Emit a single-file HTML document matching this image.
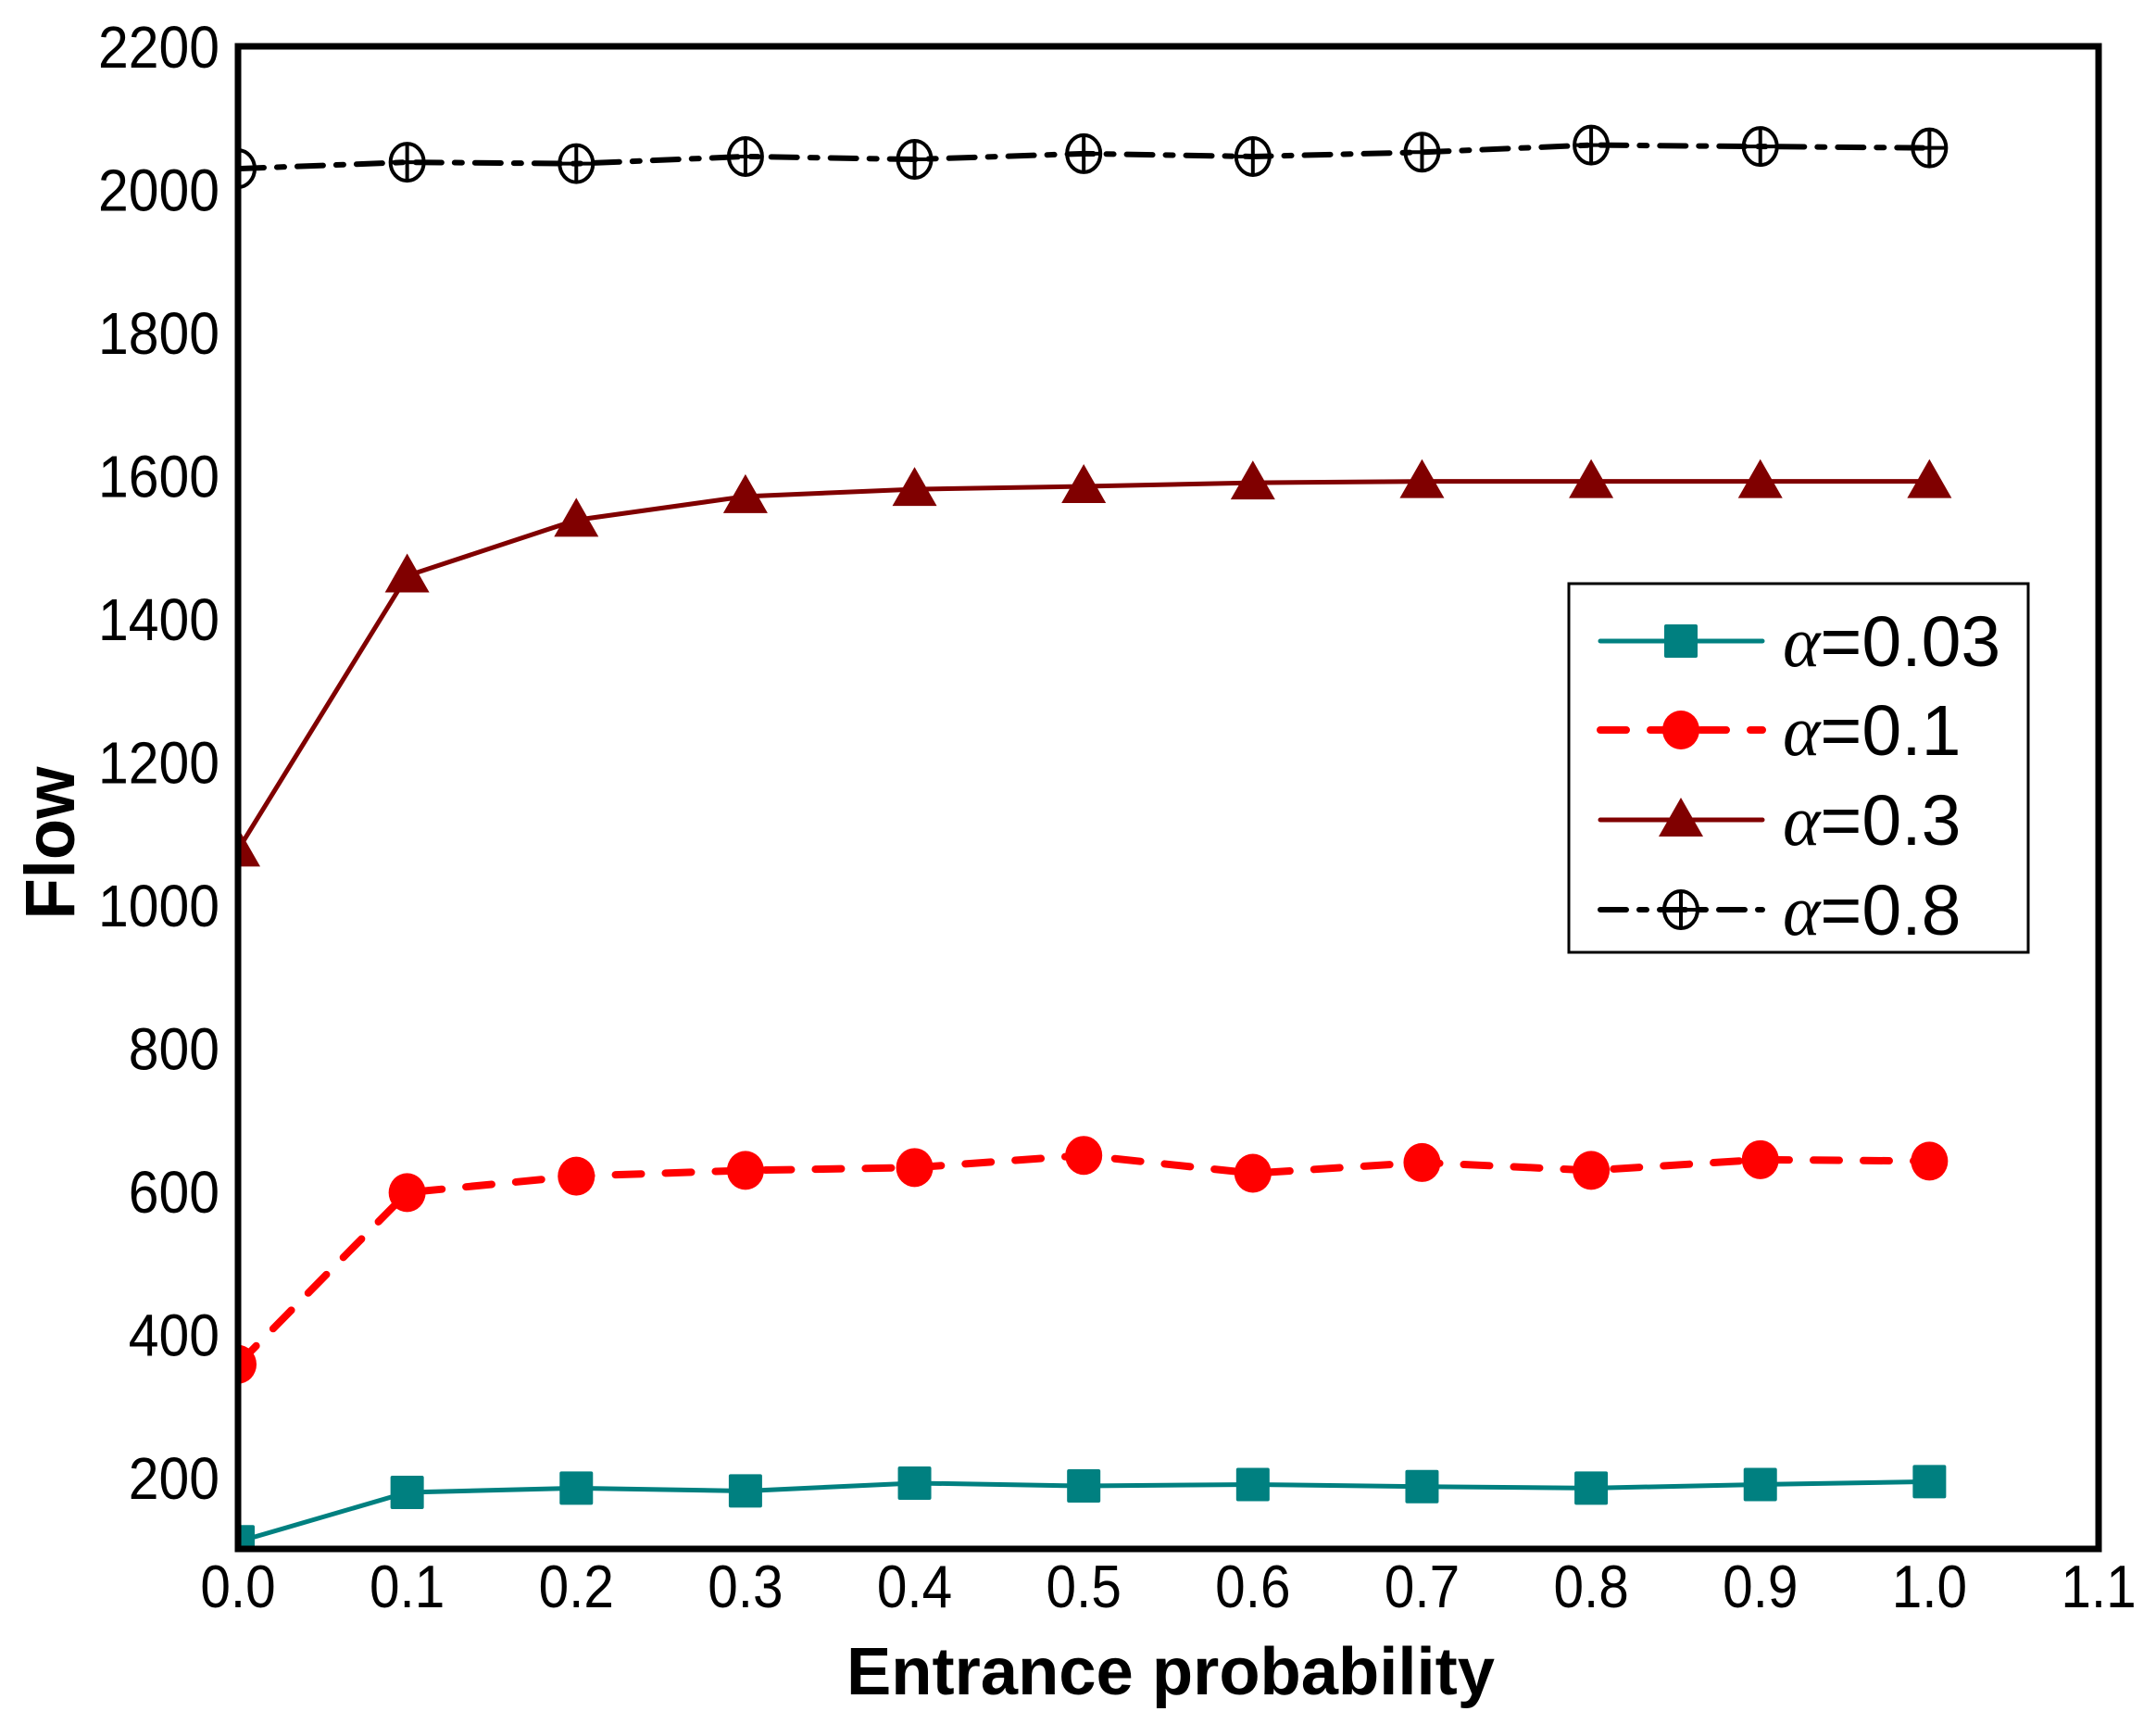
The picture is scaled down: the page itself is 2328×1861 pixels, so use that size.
<!DOCTYPE html>
<html><head><meta charset="utf-8"><style>
html,body{margin:0;padding:0;background:#fff;}
svg{display:block;}
text{font-family:"Liberation Sans",Arial,sans-serif;}
</style></head><body>
<svg id="chart" width="2328" height="1861" viewBox="0 0 2328 1861" xmlns="http://www.w3.org/2000/svg">
<defs><clipPath id="plotclip"><rect x="257" y="50" width="2009" height="1622"/></clipPath></defs>
<g id="series" clip-path="url(#plotclip)"></g>
<rect x="257" y="50" width="2009" height="1622" fill="none" stroke="#000" stroke-width="7"/>
<g id="xticks"></g>
<g id="yticks"></g>
<text x="1264" y="1829" text-anchor="middle" font-weight="bold" font-size="72" textLength="700" lengthAdjust="spacingAndGlyphs">Entrance probability</text>
<text transform="translate(80,910) rotate(-90)" text-anchor="middle" font-weight="bold" font-size="76" textLength="165" lengthAdjust="spacingAndGlyphs">Flow</text>
<g id="legend">
<rect x="1694" y="630" width="496" height="398" fill="#fff" stroke="#000" stroke-width="3"/>
</g>
</svg>
<script>
const xValues = [0.0,0.1,0.2,0.3,0.4,0.5,0.6,0.7,0.8,0.9,1.0];
const flowA003 = [110,179,185,181,192,188,190,187,185,190,194];
const flowA01 = [358,598,621,629,633,650,625,640,629,644,642];
const flowA03 = [1077,1460,1538,1571,1581,1585,1590,1592,1592,1592,1592];
const flowA08 = [2029,2038,2036,2046,2042,2050,2046,2052,2062,2060,2058];
const seriesLabels = ["0.03","0.1","0.3","0.8"];
const xTickLabels = ["0.0","0.1","0.2","0.3","0.4","0.5","0.6","0.7","0.8","0.9","1.0","1.1"];
const yTickLabels = ["200","400","600","800","1000","1200","1400","1600","1800","2000","2200"];

const NS="http://www.w3.org/2000/svg";
const X0=257, X1=2266, XMIN=0, XMAX=1.1;
const YTOP=50, YBOT=1672, YMIN=100, YMAX=2200;
function sx(v){return X0+(v-XMIN)/(XMAX-XMIN)*(X1-X0);}
function sy(v){return YBOT-(v-YMIN)/(YMAX-YMIN)*(YBOT-YTOP);}
function mk(tag,attrs,parent){const e=document.createElementNS(NS,tag);for(const k in attrs)e.setAttribute(k,attrs[k]);parent.appendChild(e);return e;}

const styles=[
 {data:flowA003,color:"#008080",dash:"",w:5,marker:"square"},
 {data:flowA01,color:"#ff0000",dash:"28 26",w:8,marker:"circle"},
 {data:flowA03,color:"#800000",dash:"",w:5,marker:"triangle"},
 {data:flowA08,color:"#000000",dash:"28 14 8 14",w:6,marker:"cross"}
];
function drawMarker(kind,x,y,color,g){
  let m;
  if(kind==="square"){m=mk("rect",{x:x-18,y:y-18,width:36,height:36,rx:2,fill:color},g);}
  else if(kind==="circle"){m=mk("ellipse",{cx:x,cy:y,rx:20,ry:21,fill:color},g);}
  else if(kind==="triangle"){m=mk("polygon",{points:`${x},${y-24} ${x-24},${y+18} ${x+24},${y+18}`,fill:color},g);}
  else {m=mk("g",{},g);
    mk("ellipse",{cx:x,cy:y,rx:18,ry:20,fill:"none",stroke:color,"stroke-width":4},m);
    mk("line",{x1:x,y1:y-20,x2:x,y2:y+20,stroke:color,"stroke-width":4},m);
    mk("line",{x1:x-18,y1:y,x2:x+18,y2:y,stroke:color,"stroke-width":4},m);}
  return m;
}
const sg=document.getElementById("series");
styles.forEach((s,i)=>{
  const g=mk("g",{},sg);
  
  
  const pts=s.data.map((v,j)=>sx(xValues[j])+","+sy(v)).join(" ");
  const pl=mk("polyline",{points:pts,fill:"none",stroke:s.color,"stroke-width":s.w,"stroke-dasharray":s.dash,"stroke-linecap":"round"},g);
  
  
  s.data.forEach((v,j)=>{
    const m=drawMarker(s.marker,sx(xValues[j]),sy(v),s.color,g);
    
    
  });
});
const xt=document.getElementById("xticks");
xTickLabels.forEach((t,i)=>{
  const x=sx(i*0.1);
  const e=mk("text",{transform:`translate(${x},1735) scale(0.9,1)`,"text-anchor":"middle","font-size":65},xt);
  e.textContent=t;
  
  
});
const yt=document.getElementById("yticks");
yTickLabels.forEach((t)=>{
  const y=sy(parseFloat(t));
  const e=mk("text",{transform:`translate(237,${y+23}) scale(0.92,1)`,"text-anchor":"end","font-size":64},yt);
  e.textContent=t;
  
  
});
const lg=document.getElementById("legend");
const rowY=[692,788,885,982];
styles.forEach((s,i)=>{
  const g=mk("g",{},lg);
  
  
  const y=rowY[i];
  mk("line",{x1:1728,y1:y,x2:1903,y2:y,stroke:s.color,"stroke-width":s.w,"stroke-dasharray":s.dash,"stroke-linecap":"round"},g);
  drawMarker(s.marker,1815,y,s.color,g);
  const t=mk("text",{x:1925,y:y+27,"font-size":77},g);
  const a=mk("tspan",{"font-family":"Liberation Serif, serif","font-style":"italic"},t);
  a.textContent="α";
  const b=mk("tspan",{},t);
  b.textContent="="+seriesLabels[i];
});
</script>
</body></html>
